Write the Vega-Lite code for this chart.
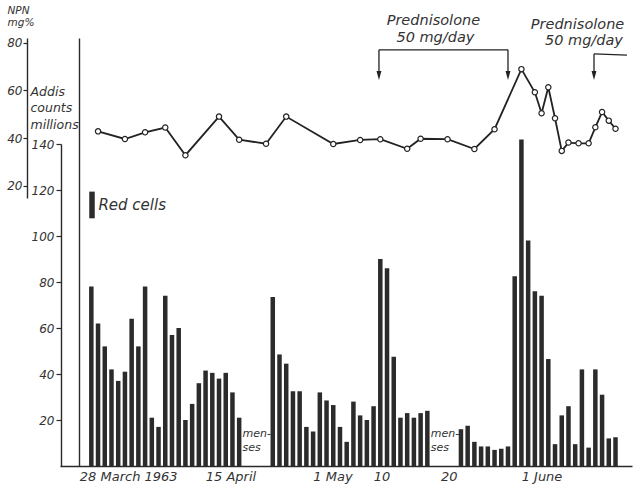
{
  "$schema": "https://vega.github.io/schema/vega-lite/v6.json",
  "width": 553,
  "height": 428,
  "autosize": {"type": "none"},
  "padding": {"left": 79, "top": 38, "right": 1, "bottom": 18},
  "background": "white",
  "config": {
    "view": {"stroke": null},
    "font": "DejaVu Sans",
    "axis": {
      "grid": false,
      "labelFont": "DejaVu Sans",
      "labelFontStyle": "italic",
      "labelColor": "#333333",
      "domainColor": "#2a2a2a",
      "tickColor": "#2a2a2a",
      "domainWidth": 1.4,
      "tickWidth": 1.2,
      "titleFont": "DejaVu Sans",
      "titleFontStyle": "italic",
      "titleFontWeight": "normal",
      "titleColor": "#333333"
    }
  },
  "datasets": {
    "rbc": [
      {"day": 0, "date": "1963-03-28", "rbc": 78},
      {"day": 1, "date": "1963-03-29", "rbc": 62},
      {"day": 2, "date": "1963-03-30", "rbc": 52},
      {"day": 3, "date": "1963-03-31", "rbc": 42},
      {"day": 4, "date": "1963-04-01", "rbc": 37},
      {"day": 5, "date": "1963-04-02", "rbc": 41},
      {"day": 6, "date": "1963-04-03", "rbc": 64},
      {"day": 7, "date": "1963-04-04", "rbc": 52},
      {"day": 8, "date": "1963-04-05", "rbc": 78},
      {"day": 9, "date": "1963-04-06", "rbc": 21},
      {"day": 10, "date": "1963-04-07", "rbc": 17},
      {"day": 11, "date": "1963-04-08", "rbc": 74},
      {"day": 12, "date": "1963-04-09", "rbc": 57},
      {"day": 13, "date": "1963-04-10", "rbc": 60},
      {"day": 14, "date": "1963-04-11", "rbc": 20},
      {"day": 15, "date": "1963-04-12", "rbc": 27},
      {"day": 16, "date": "1963-04-13", "rbc": 36},
      {"day": 17, "date": "1963-04-14", "rbc": 41.5},
      {"day": 18, "date": "1963-04-15", "rbc": 40.5},
      {"day": 19, "date": "1963-04-16", "rbc": 38},
      {"day": 20, "date": "1963-04-17", "rbc": 40.5},
      {"day": 21, "date": "1963-04-18", "rbc": 32},
      {"day": 22, "date": "1963-04-19", "rbc": 21},
      {"day": 27, "date": "1963-04-24", "rbc": 73.5},
      {"day": 28, "date": "1963-04-25", "rbc": 48.5},
      {"day": 29, "date": "1963-04-26", "rbc": 44.5},
      {"day": 30, "date": "1963-04-27", "rbc": 32.5},
      {"day": 31, "date": "1963-04-28", "rbc": 32.5},
      {"day": 32, "date": "1963-04-29", "rbc": 17},
      {"day": 33, "date": "1963-04-30", "rbc": 15},
      {"day": 34, "date": "1963-05-01", "rbc": 32},
      {"day": 35, "date": "1963-05-02", "rbc": 28.5},
      {"day": 36, "date": "1963-05-03", "rbc": 26.5},
      {"day": 37, "date": "1963-05-04", "rbc": 17},
      {"day": 38, "date": "1963-05-05", "rbc": 10.5},
      {"day": 39, "date": "1963-05-06", "rbc": 28},
      {"day": 40, "date": "1963-05-07", "rbc": 22},
      {"day": 41, "date": "1963-05-08", "rbc": 20},
      {"day": 42, "date": "1963-05-09", "rbc": 26},
      {"day": 43, "date": "1963-05-10", "rbc": 90},
      {"day": 44, "date": "1963-05-11", "rbc": 86},
      {"day": 45, "date": "1963-05-12", "rbc": 47.5},
      {"day": 46, "date": "1963-05-13", "rbc": 21},
      {"day": 47, "date": "1963-05-14", "rbc": 23},
      {"day": 48, "date": "1963-05-15", "rbc": 21},
      {"day": 49, "date": "1963-05-16", "rbc": 23},
      {"day": 50, "date": "1963-05-17", "rbc": 24},
      {"day": 55, "date": "1963-05-22", "rbc": 16},
      {"day": 56, "date": "1963-05-23", "rbc": 17.5},
      {"day": 57, "date": "1963-05-24", "rbc": 10.5},
      {"day": 58, "date": "1963-05-25", "rbc": 8.5},
      {"day": 59, "date": "1963-05-26", "rbc": 8.5},
      {"day": 60, "date": "1963-05-27", "rbc": 7},
      {"day": 61, "date": "1963-05-28", "rbc": 7.5},
      {"day": 62, "date": "1963-05-29", "rbc": 8.5},
      {"day": 63, "date": "1963-05-30", "rbc": 82.5},
      {"day": 64, "date": "1963-05-31", "rbc": 142},
      {"day": 65, "date": "1963-06-01", "rbc": 98},
      {"day": 66, "date": "1963-06-02", "rbc": 76},
      {"day": 67, "date": "1963-06-03", "rbc": 74},
      {"day": 68, "date": "1963-06-04", "rbc": 46.5},
      {"day": 69, "date": "1963-06-05", "rbc": 9.5},
      {"day": 70, "date": "1963-06-06", "rbc": 22},
      {"day": 71, "date": "1963-06-07", "rbc": 26},
      {"day": 72, "date": "1963-06-08", "rbc": 9.5},
      {"day": 73, "date": "1963-06-09", "rbc": 42},
      {"day": 74, "date": "1963-06-10", "rbc": 8},
      {"day": 75, "date": "1963-06-11", "rbc": 42},
      {"day": 76, "date": "1963-06-12", "rbc": 31},
      {"day": 77, "date": "1963-06-13", "rbc": 12},
      {"day": 78, "date": "1963-06-14", "rbc": 12.5}
    ],
    "menses": [
      {"day": 22.5, "rbc": 14, "label": "men-\nses"},
      {"day": 50.5, "rbc": 14, "label": "men-\nses"}
    ],
    "npn": [
      {"day": 1, "npn": 42.8},
      {"day": 5, "npn": 39.6},
      {"day": 8, "npn": 42.4},
      {"day": 11, "npn": 44.4},
      {"day": 14, "npn": 32.8},
      {"day": 19, "npn": 49.0},
      {"day": 22, "npn": 39.3},
      {"day": 26, "npn": 37.6},
      {"day": 29, "npn": 49.0},
      {"day": 36, "npn": 37.5},
      {"day": 40, "npn": 39.2},
      {"day": 43, "npn": 39.5},
      {"day": 47, "npn": 35.5},
      {"day": 49, "npn": 39.7},
      {"day": 53, "npn": 39.5},
      {"day": 57, "npn": 35.4},
      {"day": 60, "npn": 43.7},
      {"day": 64, "npn": 68.9},
      {"day": 66, "npn": 59.2},
      {"day": 67, "npn": 50.4},
      {"day": 68, "npn": 61.3},
      {"day": 69, "npn": 48.3},
      {"day": 70, "npn": 34.6},
      {"day": 71, "npn": 38.1},
      {"day": 72.5, "npn": 37.8},
      {"day": 74, "npn": 37.8},
      {"day": 75, "npn": 44.5},
      {"day": 76, "npn": 50.9},
      {"day": 77, "npn": 47.3},
      {"day": 78, "npn": 43.9}
    ],
    "brackets": [
      {"day": 42.8, "npn": 77, "d2": 62.0, "v2": 77},
      {"day": 42.8, "npn": 77, "d2": 42.8, "v2": 66.5},
      {"day": 62.0, "npn": 77, "d2": 62.0, "v2": 66.5},
      {"day": 74.8, "npn": 75.3, "d2": 74.8, "v2": 66.5},
      {"day": 74.8, "npn": 75.3, "d2": 79.7, "v2": 74.8}
    ],
    "arrows": [
      {"day": 42.8, "npn": 66.2},
      {"day": 62.0, "npn": 66.2},
      {"day": 74.8, "npn": 66.2}
    ],
    "notes": [
      {"day": 50.9, "npn": 87.5, "label": "Prednisolone"},
      {"day": 51.2, "npn": 80.4, "label": "50 mg/day"},
      {"day": 72.35, "npn": 85.8, "label": "Prednisolone"},
      {"day": 73.3, "npn": 79.0, "label": "50 mg/day"}
    ],
    "legend": [
      {"day": 0.1, "lo": 107.7, "hi": 119.3}
    ],
    "legendText": [
      {"day": 1.05, "lo": 113.5, "label": "Red cells"}
    ]
  },
  "resolve": {"scale": {"y": "independent"}, "axis": {"y": "independent"}},
  "layer": [
    {
      "layer": [
        {
          "data": {"name": "rbc"},
          "mark": {"type": "bar", "size": 4.5, "color": "#2b2b2b"},
          "encoding": {
            "x": {
              "field": "day",
              "type": "quantitative",
              "scale": {"domain": [-3.918, 79.71], "range": [-19, 553], "nice": false, "zero": false},
              "axis": {
                "values": [0, 18, 34, 43, 53, 65],
                "labelExpr": "datum.value == 0 ? '28 March 1963' : datum.value == 18 ? '15 April' : datum.value == 34 ? '1 May' : datum.value == 43 ? '10' : datum.value == 53 ? '20' : '1 June'",
                "ticks": false,
                "labelAlign": "left",
                "labelBaseline": "top",
                "labelOffset": {"condition": {"test": "datum.value == 0", "value": -12}, "value": -7},
                "labelFontSize": 13,
                "labelPadding": 4,
                "labelOverlap": false,
                "labelFlush": false,
                "labelBound": false,
                "domainWidth": 1.5,
                "title": null
              }
            },
            "y": {
              "field": "rbc",
              "type": "quantitative",
              "scale": {"domain": [0, 140], "range": [428, 106], "nice": false},
              "axis": {
                "orient": "left",
                "offset": 18,
                "values": [20, 40, 60, 80, 100, 120, 140],
                "tickSize": 5,
                "labelPadding": 2,
                "labelFontSize": 12,
                "title": ["Addis", "counts", "millions"],
                "titleFontSize": 12.5,
                "titleLineHeight": 16.5,
                "titleAngle": 0,
                "titleAlign": "left",
                "titleBaseline": "alphabetic",
                "titleX": -31,
                "titleY": 57
              }
            }
          }
        },
        {
          "data": {"name": "menses"},
          "mark": {"type": "text", "align": "left", "baseline": "middle", "lineBreak": "\n", "fontStyle": "italic", "fontSize": 11, "lineHeight": 14, "color": "#333333"},
          "encoding": {
            "x": {"field": "day", "type": "quantitative"},
            "y": {"field": "rbc", "type": "quantitative"},
            "text": {"field": "label"}
          }
        }
      ]
    },
    {
      "layer": [
        {
          "data": {"name": "legend"},
          "mark": {"type": "bar", "size": 5.5, "color": "#2b2b2b"},
          "encoding": {
            "x": {"field": "day", "type": "quantitative"},
            "y": {
              "field": "lo",
              "type": "quantitative",
              "scale": {"domain": [0, 186.1], "nice": false},
              "axis": {"orient": "left", "offset": 0, "ticks": false, "labels": false, "title": null, "domain": true}
            },
            "y2": {"field": "hi"}
          }
        },
        {
          "data": {"name": "legendText"},
          "mark": {"type": "text", "align": "left", "baseline": "middle", "fontStyle": "italic", "fontSize": 15, "color": "#333333"},
          "encoding": {
            "x": {"field": "day", "type": "quantitative"},
            "y": {"field": "lo", "type": "quantitative"},
            "text": {"field": "label"}
          }
        }
      ]
    },
    {
      "layer": [
        {
          "data": {"name": "npn"},
          "mark": {"type": "line", "color": "#222222", "strokeWidth": 1.8, "point": {"filled": false, "fill": "white", "stroke": "#222222", "strokeWidth": 1.2, "size": 28}},
          "encoding": {
            "x": {"field": "day", "type": "quantitative"},
            "y": {
              "field": "npn",
              "type": "quantitative",
              "scale": {"domain": [14.84, 81.97], "range": [160, 0], "nice": false, "zero": false},
              "axis": {
                "orient": "left",
                "offset": 52,
                "values": [20, 40, 60, 80],
                "tickSize": 4,
                "labelPadding": 1,
                "labelFontSize": 12,
                "title": ["NPN", "mg%"],
                "titleFontSize": 10.5,
                "titleLineHeight": 11.5,
                "titleAngle": 0,
                "titleAlign": "left",
                "titleBaseline": "alphabetic",
                "titleX": -20,
                "titleY": -24.5
              }
            }
          }
        },
        {
          "data": {"name": "brackets"},
          "mark": {"type": "rule", "color": "#222222", "strokeWidth": 1.3},
          "encoding": {
            "x": {"field": "day", "type": "quantitative"},
            "x2": {"field": "d2"},
            "y": {"field": "npn", "type": "quantitative"},
            "y2": {"field": "v2"}
          }
        },
        {
          "data": {"name": "arrows"},
          "mark": {"type": "point", "shape": "M-0.55,-1L0.55,-1L0,1Z", "filled": true, "color": "#222222", "size": 80, "opacity": 1},
          "encoding": {
            "x": {"field": "day", "type": "quantitative"},
            "y": {"field": "npn", "type": "quantitative"}
          }
        },
        {
          "data": {"name": "notes"},
          "mark": {"type": "text", "align": "center", "baseline": "alphabetic", "fontStyle": "italic", "fontSize": 14.5, "color": "#333333"},
          "encoding": {
            "x": {"field": "day", "type": "quantitative"},
            "y": {"field": "npn", "type": "quantitative"},
            "text": {"field": "label"}
          }
        }
      ]
    }
  ]
}
